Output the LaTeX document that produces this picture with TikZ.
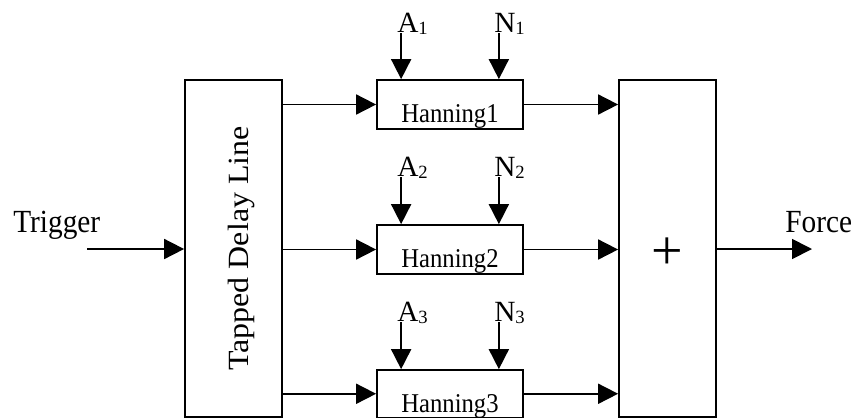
\documentclass[tikz,border=0pt]{standalone}
\usepackage{fontspec}
\setmainfont{Liberation Serif}
\usetikzlibrary{arrows.meta}
\newcommand\vstretch[1]{\scalebox{1}[1.1]{#1}}
\newcommand\lsub[1]{\raisebox{-1.5pt}{\fontsize{14}{14}\selectfont #1}}
\begin{document}
\begin{tikzpicture}[x=0.75pt,y=-0.75pt,
  box/.style={draw,line width=1.3pt,inner sep=0pt},
  bigbox/.style={box,minimum width=72.75pt,minimum height=252.75pt},
  hbox/.style={box,minimum width=109.5pt,minimum height=36.75pt},
  arr/.style={line width=1.3pt,-{Triangle[length=15pt,width=15pt]}},
  lbl/.style={inner sep=0pt,font=\fontsize{22}{26}\selectfont},
  htext/.style={inner sep=0pt,font=\fontsize{18.5}{22}\selectfont,anchor=base}]
\useasboundingbox (0,0) rectangle (860,419);
% main boxes
\node[bigbox] (tdl) at (233.5,248.75) {};
\node[bigbox] (sum) at (667.5,248.75) {};
\node[hbox] (h1) at (450,104.5) {};
\node[hbox] (h2) at (450,249.5) {};
\node[hbox,minimum height=35.6pt] (h3) at (450,393.75) {};
% texts
\node[lbl,rotate=90,anchor=base] (tdlt) at (248,248.5) {\scalebox{1.09}[1]{Tapped Delay Line}};
\node[htext] (t1) at (450,122) {\vstretch{Hanning1}};
\node[htext] (t2) at (450,267) {\vstretch{Hanning2}};
\node[htext] (t3) at (450,412) {\vstretch{Hanning3}};
\node[inner sep=0pt,font=\fontsize{42}{42}\selectfont] (plus) at (667.5,254) {+};
\node[lbl,anchor=base west] (trigger) at (13,232) {\vstretch{Trigger}};
\node[lbl,anchor=base west] (force) at (785,232) {\vstretch{Force}};
% A / N labels
\node[lbl,anchor=base west] (a1) at (397,32) {A\lsub{1}};
\node[lbl,anchor=base west] (n1) at (494,32) {N\lsub{1}};
\node[lbl,anchor=base west] (a2) at (397,176) {A\lsub{2}};
\node[lbl,anchor=base west] (n2) at (494,176) {N\lsub{2}};
\node[lbl,anchor=base west] (a3) at (397,321) {A\lsub{3}};
\node[lbl,anchor=base west] (n3) at (494,321) {N\lsub{3}};
% coordinates on box tops
\coordinate (h1a) at ([xshift=18.75pt]h1.north west);
\coordinate (h1n) at ([xshift=-18.75pt]h1.north east);
\coordinate (h2a) at ([xshift=18.75pt]h2.north west);
\coordinate (h2n) at ([xshift=-18.75pt]h2.north east);
\coordinate (h3a) at ([xshift=18.75pt]h3.north west);
\coordinate (h3n) at ([xshift=-18.75pt]h3.north east);
\coordinate (trig) at (87,249);
\coordinate (fend) at (812,249);
% connectors
\draw[arr] (trig) -- (trig -| tdl.west);
\foreach \h in {h1,h2,h3}{
  \draw[arr] (tdl.east |- \h.west) -- (\h.west);
  \draw[arr] (\h.east) -- (\h.east -| sum.west);
}
\draw[arr] (sum.east |- fend) -- (fend);
\draw[arr] ([yshift=-1pt]h1a |- a1.base) -- (h1a);
\draw[arr] ([yshift=-1pt]h1n |- n1.base) -- (h1n);
\draw[arr] ([yshift=-1pt]h2a |- a2.base) -- (h2a);
\draw[arr] ([yshift=-1pt]h2n |- n2.base) -- (h2n);
\draw[arr] ([yshift=-1pt]h3a |- a3.base) -- (h3a);
\draw[arr] ([yshift=-1pt]h3n |- n3.base) -- (h3n);
\end{tikzpicture}
\end{document}
